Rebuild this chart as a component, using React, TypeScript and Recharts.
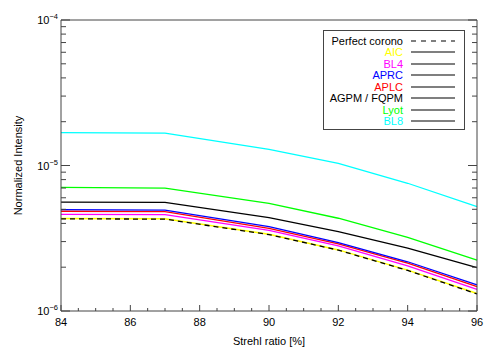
import { LineChart, Line, XAxis, YAxis, Legend } from 'recharts'

// Strehl ratio (%) sample points
const strehl = [84, 87, 90, 92, 94, 96]

// normalized intensity per coronagraph
const perfect = [4.3e-6, 4.28e-6, 3.35e-6, 2.62e-6, 1.9e-6, 1.31e-6]
const aic = [4.33e-6, 4.31e-6, 3.37e-6, 2.63e-6, 1.91e-6, 1.32e-6]
const bl4 = [4.62e-6, 4.6e-6, 3.58e-6, 2.8e-6, 2.04e-6, 1.41e-6]
const aprc = [4.97e-6, 4.93e-6, 3.8e-6, 2.95e-6, 2.18e-6, 1.51e-6]
const aplc = [4.85e-6, 4.82e-6, 3.7e-6, 2.89e-6, 2.13e-6, 1.47e-6]
const agpm = [5.61e-6, 5.58e-6, 4.38e-6, 3.51e-6, 2.7e-6, 1.99e-6]
const lyot = [7.08e-6, 7.0e-6, 5.5e-6, 4.34e-6, 3.21e-6, 2.24e-6]
const bl8 = [1.68e-5, 1.67e-5, 1.29e-5, 1.035e-5, 7.55e-6, 5.21e-6]

const xTicks = [
  84, 84.5, 85, 85.5, 86, 86.5, 87, 87.5, 88, 88.5, 89, 89.5, 90, 90.5, 91, 91.5,
  92, 92.5, 93, 93.5, 94, 94.5, 95, 95.5, 96,
]
const xMajor = [84, 86, 88, 90, 92, 94, 96]
const yTicks = [
  1e-6, 2e-6, 3e-6, 4e-6, 5e-6, 6e-6, 7e-6, 8e-6, 9e-6,
  1e-5, 2e-5, 3e-5, 4e-5, 5e-5, 6e-5, 7e-5, 8e-5, 9e-5, 1e-4,
]

const legendItems = [
  { name: 'Perfect corono', color: '#000000', dashed: true },
  { name: 'AIC', color: '#ffff00' },
  { name: 'BL4', color: '#ff00ff' },
  { name: 'APRC', color: '#0000ff' },
  { name: 'APLC', color: '#ff0000' },
  { name: 'AGPM / FQPM', color: '#000000' },
  { name: 'Lyot', color: '#00ff00' },
  { name: 'BL8', color: '#00ffff' },
]

const data = strehl.map((x, i) => ({
  x,
  perfect: perfect[i],
  aic: aic[i],
  bl4: bl4[i],
  aprc: aprc[i],
  aplc: aplc[i],
  agpm: agpm[i],
  lyot: lyot[i],
  bl8: bl8[i],
}))

const AXIS = '#444'
const FONT = '"Liberation Sans", Arial, sans-serif'

const isDecade = (v: number) => Math.abs(Math.log10(v) - Math.round(Math.log10(v))) < 1e-6

function LeftTick({ x, y, payload }: any) {
  const major = isDecade(payload.value)
  const exp = Math.round(Math.log10(payload.value))
  return (
    <g>
      <line x1={x} x2={x + (major ? 9 : 5)} y1={y} y2={y} stroke={AXIS} />
      {major && (
        <text x={x - 3} y={y + 4} textAnchor="end" fontSize={11} fontFamily={FONT} fill="#000">
          10
          <tspan dy={-5} fontSize={7.5}>{`\u2212${Math.abs(exp)}`}</tspan>
        </text>
      )}
    </g>
  )
}

function RightTick({ x, y, payload }: any) {
  const major = isDecade(payload.value)
  return <line x1={x} x2={x - (major ? 9 : 5)} y1={y} y2={y} stroke={AXIS} />
}

function BottomTick({ x, y, payload }: any) {
  const major = xMajor.includes(payload.value)
  return (
    <g>
      <line x1={x} x2={x} y1={y} y2={y - (major ? 6 : 3)} stroke={AXIS} />
      {major && (
        <text x={x} y={y + 15} textAnchor="middle" fontSize={11} fontFamily={FONT} fill="#000">
          {payload.value}
        </text>
      )}
    </g>
  )
}

function TopTick({ x, y, payload }: any) {
  const major = xMajor.includes(payload.value)
  return <line x1={x} x2={x} y1={y} y2={y + (major ? 6 : 3)} stroke={AXIS} />
}

function LegendBox() {
  return (
    <div
      style={{
        border: `1px solid ${AXIS}`,
        width: 142,
        height: 100,
        boxSizing: 'border-box',
        paddingTop: 4,
        background: '#fff',
        fontFamily: FONT,
        fontSize: 11,
      }}
    >
      {legendItems.map((item) => (
        <div key={item.name} style={{ display: 'flex', alignItems: 'center', height: 11.5 }}>
          <span style={{ width: 79, textAlign: 'right', color: item.color, whiteSpace: 'nowrap' }}>
            {item.name}
          </span>
          <svg width={44} height={4} style={{ marginLeft: 8 }}>
            <line
              x1={0}
              x2={44}
              y1={2}
              y2={2}
              stroke="#000"
              strokeWidth={1.2}
              strokeDasharray={item.dashed ? '5 5' : undefined}
            />
          </svg>
        </div>
      ))}
    </div>
  )
}

export default function App() {
  return (
    <div style={{ position: 'absolute', left: 0, top: 0, width: 491, height: 350, background: '#fff' }}>
      <LineChart width={491} height={350} data={data} margin={{ top: 0, right: 0, bottom: 0, left: 0 }}>
        <XAxis
          dataKey="x"
          type="number"
          domain={[84, 96]}
          ticks={xTicks}
          interval={0}
          tickSize={0}
          tickMargin={0}
          tick={<BottomTick />}
          stroke={AXIS}
          height={39}
          label={{
            content: ({ viewBox }: any) => (
              <text
                x={viewBox.x + viewBox.width / 2}
                y={viewBox.y + 34}
                textAnchor="middle"
                fontSize={11}
                fontFamily={FONT}
              >
                Strehl ratio [%]
              </text>
            ),
          }}
        />
        <XAxis
          xAxisId="top"
          orientation="top"
          type="number"
          domain={[84, 96]}
          ticks={xTicks}
          interval={0}
          tickSize={0}
          tickMargin={0}
          tick={<TopTick />}
          stroke={AXIS}
          height={20}
        />
        <YAxis
          scale="log"
          type="number"
          domain={[1e-6, 1e-4]}
          allowDataOverflow
          ticks={yTicks}
          interval={0}
          tickSize={0}
          tickMargin={0}
          tick={<LeftTick />}
          stroke={AXIS}
          width={61}
          label={{
            content: ({ viewBox }: any) => {
              const cx = 22
              const cy = viewBox.y + viewBox.height / 2
              return (
                <text
                  x={cx}
                  y={cy}
                  transform={`rotate(-90 ${cx} ${cy})`}
                  textAnchor="middle"
                  fontSize={11}
                  fontFamily={FONT}
                >
                  Normalized Intensity
                </text>
              )
            },
          }}
        />
        <YAxis
          yAxisId="right"
          orientation="right"
          scale="log"
          type="number"
          domain={[1e-6, 1e-4]}
          allowDataOverflow
          ticks={yTicks}
          interval={0}
          tickSize={0}
          tickMargin={0}
          tick={<RightTick />}
          stroke={AXIS}
          width={14}
        />
        <Legend
          layout="vertical"
          align="center"
          verticalAlign="middle"
          content={<LegendBox />}
          wrapperStyle={{ position: 'absolute', left: 323, top: 30, width: 142 }}
        />
        <Line dataKey="bl8" stroke="#00ffff" strokeWidth={1.3} dot={false} isAnimationActive={false} />
        <Line dataKey="lyot" stroke="#00ff00" strokeWidth={1.3} dot={false} isAnimationActive={false} />
        <Line dataKey="agpm" stroke="#000000" strokeWidth={1.3} dot={false} isAnimationActive={false} />
        <Line dataKey="bl4" stroke="#ff00ff" strokeWidth={1.3} dot={false} isAnimationActive={false} />
        <Line dataKey="aplc" stroke="#ff0000" strokeWidth={1.3} dot={false} isAnimationActive={false} />
        <Line dataKey="aprc" stroke="#0000ff" strokeWidth={1.3} dot={false} isAnimationActive={false} />
        <Line dataKey="aic" stroke="#ffff00" strokeWidth={1.5} dot={false} isAnimationActive={false} />
        <Line
          dataKey="perfect"
          stroke="#000000"
          strokeWidth={1.3}
          strokeDasharray="5 4"
          dot={false}
          isAnimationActive={false}
        />
      </LineChart>
    </div>
  )
}
